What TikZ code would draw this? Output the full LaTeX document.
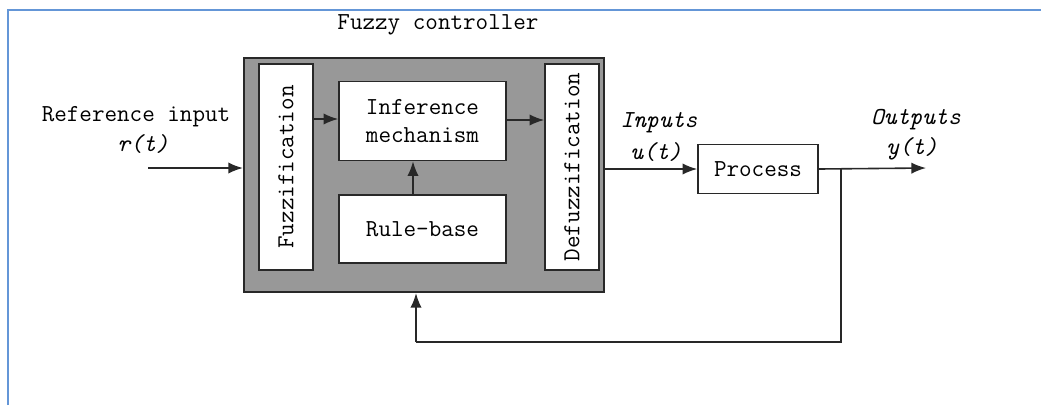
\documentclass[tikz,border=0pt]{standalone}
\usepackage{fontspec}
\usetikzlibrary{arrows.meta}
\definecolor{fillgray}{RGB}{152,152,152}
\definecolor{linedark}{RGB}{40,40,40}
\definecolor{frameblue}{RGB}{100,150,215}
\begin{document}
\begin{tikzpicture}[x=0.75pt,y=-0.75pt,
  every node/.style={font=\ttfamily\fontsize{18.3}{21}\selectfont, inner sep=0pt},
  blk/.style={draw=linedark, line width=1.2pt, fill=white, align=center},
  arr/.style={draw=linedark, line width=1.2pt, -{Latex[length=11pt,width=8.5pt]}},
  ln/.style={draw=linedark, line width=1.2pt},
  lbl/.style={align=center},
  itl/.style={font=\ttfamily\itshape\fontsize{18.3}{21}\selectfont}]
\useasboundingbox[fill=white] (0,0) rectangle (1041,405);
% screenshot frame
\draw[frameblue, line width=1.8pt] (8,405) -- (8,10) -- (1041,10);
% blocks
\node[blk, fill=fillgray, line width=1.6pt, minimum width=270pt, minimum height=175.5pt] (outer) at (424,175) {};
\node[blk, minimum width=40.5pt, minimum height=154.5pt] (fuzz) at (286,167) {};
\node[rotate=90] at (fuzz.center) {Fuzzification};
\node[blk, minimum width=40.5pt, minimum height=154.5pt] (defuzz) at (572,167) {};
\node[rotate=90] at (defuzz.center) {Defuzzification};
\node[blk, minimum width=125.25pt, minimum height=59.25pt] (inf) at (422.5,121) {Inference\\mechanism};
\node[blk, minimum width=125.25pt, minimum height=51pt] (rule) at (422.5,229) {Rule-base};
\node[blk, minimum width=90pt, minimum height=36.75pt] (proc) at (758,169) {Process};
% labels
\node[lbl] (title) at (438,25) {Fuzzy controller};
\node[lbl] (refin) at (136,117) {Reference input};
\node[itl] (rt) at (143,144) {r(t)};
\node[itl] (inputs) at (659,123) {Inputs};
\node[itl] (ut) at (656,152) {u(t)};
\node[itl] (outputs) at (916,120) {Outputs};
\node[itl] (yt) at (912,149) {y(t)};
% connectors
\coordinate (src) at (148,168);
\coordinate (outend) at (926,168);
\coordinate (branch) at (841,168);
\coordinate (fbcorner) at (416,342);
\draw[arr] (src) -- (src -| outer.west);
\draw[arr] (fuzz.east |- 0,119) -- (inf.west |- 0,119);
\draw[arr] (inf.east |- 0,120) -- (defuzz.west |- 0,120);
\draw[arr] (rule.north -| 413,0) -- (inf.south -| 413,0);
\draw[arr] (outer.east |- proc.west) -- (proc.west);
\draw[arr] (proc.east) -- (outend);
\draw[ln] (branch) |- (fbcorner);
\draw[arr] (fbcorner) -- (fbcorner |- outer.south);
\end{tikzpicture}
\end{document}
